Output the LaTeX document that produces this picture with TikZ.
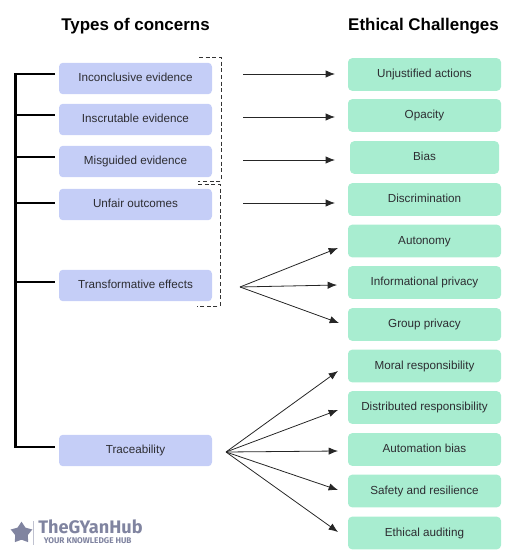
\documentclass[tikz,border=0pt]{standalone}
\usepackage{fontspec}
\setmainfont{Liberation Sans}
\newfontfamily\logofont{Fira Sans}
\usetikzlibrary{arrows.meta,shapes.geometric}
\definecolor{concernBlue}{RGB}{197,206,247}
\definecolor{challengeGreen}{RGB}{168,237,208}
\definecolor{inkGray}{RGB}{45,45,50}
\definecolor{logoGray}{RGB}{128,132,160}
\tikzset{
  box/.style={rounded corners=3pt, draw=none, align=center, inner sep=0pt, minimum height=23.6pt,
              minimum width=114.75pt, font=\fontsize{8.75}{10}\selectfont, text=inkGray,
              text height=8pt, text depth=3.5pt},
  concern/.style={box, fill=concernBlue},
  challenge/.style={box, fill=challengeGreen, minimum height=24.4pt},
  arrow/.style={-{Latex[length=7pt,width=5.5pt]}, draw=black!85, semithick},
  spine/.style={draw=black, line width=1.8pt},
  bracket/.style={draw=black!80, densely dashed, line width=0.4pt}
}
\begin{document}
\begin{tikzpicture}[x=0.75pt,y=-0.75pt]
\useasboundingbox (0,0) rectangle (517,556);

\node[font=\bfseries\fontsize{12.7}{14}\selectfont, text=black] (leftTitle) at (135.5,26.5) {Types of concerns};
\node[font=\bfseries\fontsize{12.7}{14}\selectfont, text=black] (rightTitle) at (423.5,26.5) {Ethical Challenges};

% Concerns
\node[concern] (inconclusive) at (135.5,78.5) {Inconclusive evidence};
\node[concern] (inscrutable) at (135.5,119.5) {Inscrutable evidence};
\node[concern] (misguided) at (135.5,161.5) {Misguided evidence};
\node[concern] (unfair) at (135.5,204.5) {Unfair outcomes};
\node[concern] (transformative) at (135.5,285.5) {Transformative effects};
\node[concern] (traceability) at (135.5,450.5) {Traceability};

% Challenges
\node[challenge] (unjustified) at (424.5,74.5) {Unjustified actions};
\node[challenge] (opacity) at (424.5,115.5) {Opacity};
\node[challenge, minimum width=111.75pt] (bias) at (424.5,157.5) {Bias};
\node[challenge] (discrimination) at (424.5,199.5) {Discrimination};
\node[challenge] (autonomy) at (424.5,241) {Autonomy};
\node[challenge] (informational) at (424.5,282.5) {Informational privacy};
\node[challenge] (group) at (424.5,324.5) {Group privacy};
\node[challenge] (moral) at (424.5,366) {Moral responsibility};
\node[challenge] (distributed) at (424.5,407.5) {Distributed responsibility};
\node[challenge] (automation) at (424.5,449.5) {Automation bias};
\node[challenge] (safety) at (424.5,491) {Safety and resilience};
\node[challenge] (auditing) at (424.5,533) {Ethical auditing};

% Spine on the left
\coordinate (spineTop) at (15.5,74);
\coordinate (spineBottom) at (15.5,447);
\coordinate (tick1) at (55,74);
\coordinate (tick2) at (55,115);
\coordinate (tick3) at (55,157);
\coordinate (tick4) at (55,203);
\coordinate (tick5) at (55,282);
\coordinate (tick6) at (55,447);
\draw[spine] (tick1) -- (spineTop) -- (spineBottom) -- (tick6);
\draw[spine] (spineTop |- tick2) -- (tick2);
\draw[spine] (spineTop |- tick3) -- (tick3);
\draw[spine] (spineTop |- tick4) -- (tick4);
\draw[spine] (spineTop |- tick5) -- (tick5);

% Dashed brackets
\coordinate (brackA) at (199,57);
\coordinate (brackB) at (198,181);
\coordinate (brackC) at (198,184);
\coordinate (brackD) at (197,306);
\draw[bracket] (brackA) -- (221,57) -- (221,181) -- (brackB);
\draw[bracket] (brackC) -- (220,184) -- (220,306) -- (brackD);

% Single arrows
\coordinate (from1) at (243,74);
\coordinate (from2) at (243,117);
\coordinate (from3) at (243,160);
\coordinate (from4) at (243,203);
\coordinate (to1) at (335,74);
\coordinate (to2) at (335,117);
\coordinate (to3) at (335,160);
\coordinate (to4) at (335,203);
\draw[arrow] (from1) -- (to1);
\draw[arrow] (from2) -- (to2);
\draw[arrow] (from3) -- (to3);
\draw[arrow] (from4) -- (to4);

% Fans
\coordinate (fanA) at (240,287);
\coordinate (fanA1) at (338,248);
\coordinate (fanA2) at (337,285);
\coordinate (fanA3) at (339,323);
\draw[arrow] (fanA) -- (fanA1);
\draw[arrow] (fanA) -- (fanA2);
\draw[arrow] (fanA) -- (fanA3);

\coordinate (fanB) at (226,452);
\coordinate (fanB1) at (338,371);
\coordinate (fanB2) at (338,410);
\coordinate (fanB3) at (338,451);
\coordinate (fanB4) at (338,490);
\coordinate (fanB5) at (338,532);
\draw[arrow] (fanB) -- (fanB1);
\draw[arrow] (fanB) -- (fanB2);
\draw[arrow] (fanB) -- (fanB3);
\draw[arrow] (fanB) -- (fanB4);
\draw[arrow] (fanB) -- (fanB5);

% Logo
\node[star, star points=5, star point ratio=1.7, fill=logoGray, inner sep=0pt, minimum size=17pt] (logoStar) at (21.5,533) {};
\coordinate (logoRuleA) at (33.5,521);
\coordinate (logoRuleB) at (33.5,545);
\draw[logoGray!50, line width=0.4pt] (logoRuleA) -- (logoRuleB);
\node[anchor=base west, inner sep=0pt, font=\logofont\bfseries\fontsize{13.6}{14}\selectfont, text=logoGray] (logoName) at (38,533) {TheGYanHub};
\node[anchor=base west, inner sep=0pt, font=\logofont\bfseries\fontsize{6.2}{7}\selectfont, text=logoGray] (logoTag) at (43.5,543.5) {YOUR KNOWLEDGE HUB};
\end{tikzpicture}
\end{document}
